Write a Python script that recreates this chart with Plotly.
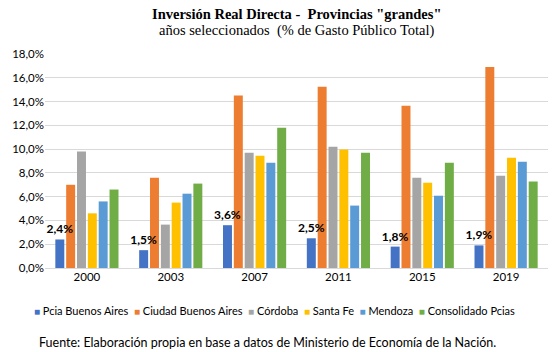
import plotly.graph_objects as go

years = ["2000", "2003", "2007", "2011", "2015", "2019"]
series_names = ["Pcia Buenos Aires", "Ciudad Buenos Aires", "Córdoba", "Santa Fe", "Mendoza", "Consolidado Pcias"]
pcia_ba = [2.4, 1.5, 3.6, 2.5, 1.8, 1.9]
caba = [7.0, 7.6, 14.5, 15.25, 13.65, 16.9]
cordoba = [9.8, 3.65, 9.7, 10.2, 7.6, 7.75]
santa_fe = [4.6, 5.5, 9.45, 9.97, 7.17, 9.28]
mendoza = [5.6, 6.25, 8.86, 5.25, 6.08, 8.94]
consolidado = [6.6, 7.1, 11.8, 9.7, 8.86, 7.27]
colors = ["#4472C4", "#ED7D31", "#A5A5A5", "#FFC000", "#5B9BD5", "#70AD47"]

all_series = [pcia_ba, caba, cordoba, santa_fe, mendoza, consolidado]
font_main = "Lato, Carlito, Calibri, 'Open Sans', sans-serif"
font_serif = "'Liberation Serif', 'Times New Roman', serif"

# bar slot geometry (fraction of a category)
slot = 0.1293
bar_w = 0.107
start = -3 * slot

fig = go.Figure()
# draw series 1..5 first, then series 0 last so its labels sit on top
order = [1, 2, 3, 4, 5, 0]
for i in order:
    name, vals = series_names[i], all_series[i]
    kw = {}
    if i == 0:
        kw = dict(texttemplate="<b>%{y:.1f}%</b>",
                  textposition="outside",
                  textfont=dict(size=12, color="#000000", family=font_main),
                  constraintext="none", textangle=0, cliponaxis=False)
    fig.add_trace(go.Bar(x=years, y=vals, name=name, marker_color=colors[i],
                         marker_line_width=0, showlegend=False,
                         width=bar_w, offset=start + i * slot + (slot - bar_w) / 2,
                         **kw))

sep = "&nbsp;&nbsp;"
legend_text = sep.join(
    f"<span style='color:{c};font-size:10px'>■</span> {n}" for c, n in zip(colors, series_names)
)

fig.update_layout(
    width=559, height=352,
    margin=dict(l=45, r=11, t=54, b=84),
    paper_bgcolor="white", plot_bgcolor="white",
    barmode="overlay",
    separators=",.",
    font=dict(family=font_main, size=11, color="#000000"),
    yaxis=dict(range=[0, 18], dtick=2, tickformat=".1f", ticksuffix="%",
               showgrid=True, gridcolor="#D9D9D9", gridwidth=1,
               zeroline=True, zerolinecolor="#D9D9D9", zerolinewidth=1,
               tickfont=dict(size=11.5, color="#000000"), ticks="", showline=False),
    xaxis=dict(tickfont=dict(size=11.5, color="#000000"), ticks="", showline=False,
               categoryorder="array", categoryarray=years, range=[-0.5, 5.5]),
    showlegend=False,
    annotations=[
        dict(text="<b>Inversión Real Directa -  Provincias \"grandes\"</b>",
             xref="paper", yref="paper", x=0.5, y=1.187, xanchor="center", yanchor="middle",
             showarrow=False, font=dict(family=font_serif, size=14.5, color="#000000")),
        dict(text="años seleccionados  (% de Gasto Público Total)",
             xref="paper", yref="paper", x=0.5, y=1.112, xanchor="center", yanchor="middle",
             showarrow=False, font=dict(family=font_serif, size=14.5, color="#000000")),
        dict(text=legend_text,
             xref="paper", yref="paper", x=0.457, y=-0.2, xanchor="center", yanchor="middle",
             showarrow=False, font=dict(size=11, color="#000000")),
        dict(text="Fuente: Elaboración propia en base a datos de Ministerio de Economía de la Nación.",
             xref="paper", yref="paper", x=0.443, y=-0.346, xanchor="center", yanchor="middle",
             showarrow=False, font=dict(size=12.5, color="#000000")),
    ],
)

fig.write_html("out.html")
